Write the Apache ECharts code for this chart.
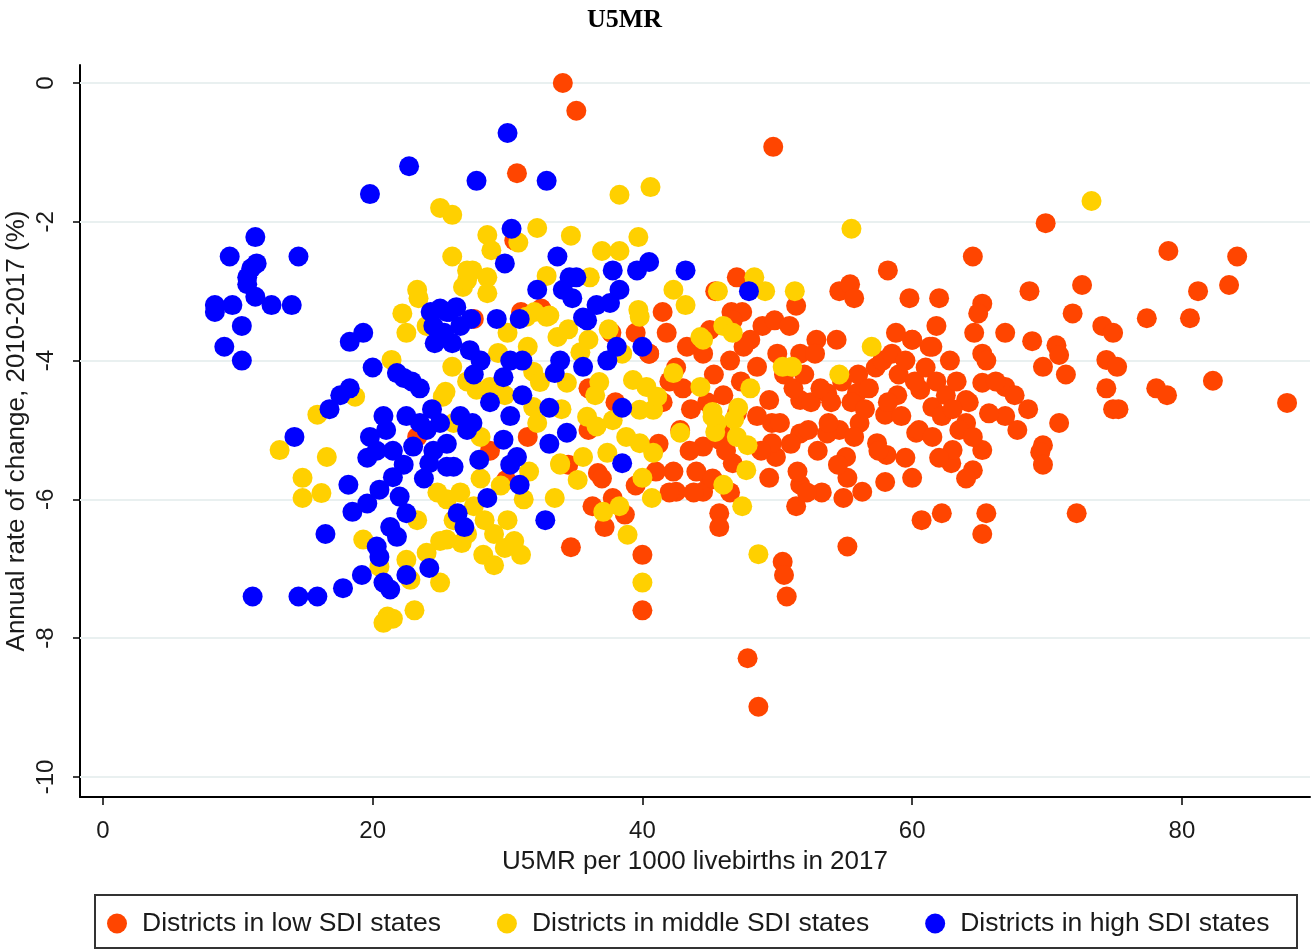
<!DOCTYPE html>
<html>
<head>
<meta charset="utf-8">
<script src="https://cdn.jsdelivr.net/npm/echarts@6/dist/echarts.min.js"></script>
<style>
  html, body { margin: 0; padding: 0; background: #fff; }
  #chart { width: 1312px; height: 950px; }
</style>
</head>
<body>
<div id="chart"></div>
<script>
// U5MR in 2017 (per 1000 livebirths) vs annual rate of change 2010-2017 (%), by district
const xTicks = [0, 20, 40, 60, 80];
const yTicks = [0, -2, -4, -6, -8, -10];

const seriesNames = [
  'Districts in low SDI states',
  'Districts in middle SDI states',
  'Districts in high SDI states'
];

// [U5MR 2017, annual rate of change %]
const lowSDI = [
  [34.1,0.0],[35.1,-0.4],[49.7,-0.92],[30.7,-1.3],
  [69.9,-2.02],[79.0,-2.42],[84.1,-2.5],[68.7,-3.0],[72.6,-2.91],[81.2,-3.0],[83.5,-2.91],[71.9,-3.32],
  [77.4,-3.39],[80.6,-3.39],[66.9,-3.6],[68.9,-3.72],[74.1,-3.5],[74.9,-3.6],[70.7,-3.78],[70.9,-3.92],
  [69.7,-4.09],[71.4,-4.2],[74.4,-3.99],[75.2,-4.09],[66.9,-4.38],[67.6,-4.5],[74.4,-4.4],[78.1,-4.4],
  [78.9,-4.5],[82.3,-4.29],[87.8,-4.61],[68.6,-4.7],[66.9,-4.8],[74.9,-4.7],[75.3,-4.7],[70.9,-4.9],
  [67.8,-5.0],[69.7,-5.22],[69.5,-5.32],[69.7,-5.5],[72.2,-6.2],
  [64.5,-2.5],[58.2,-2.7],[47.0,-2.8],[45.4,-3.0],[54.6,-3.0],[55.4,-2.9],[55.7,-3.1],[59.8,-3.1],
  [62.0,-3.1],[65.2,-3.18],[64.9,-3.32],[51.4,-3.21],[46.6,-3.3],[47.4,-3.3],[46.7,-3.42],[61.8,-3.5],
  [64.6,-3.6],[48.9,-3.5],[49.8,-3.42],[50.9,-3.5],[52.9,-3.7],[54.4,-3.7],[48.0,-3.7],[45.0,-3.56],
  [60.0,-3.7],[61.5,-3.8],[65.2,-3.9],[51.7,-3.9],[48.5,-4.09],
  [45.7,-6.2],[45.7,-6.4],[51.4,-6.1],[54.9,-5.98],[60.7,-6.3],[62.2,-6.2],[65.5,-6.2],[65.2,-6.5],
  [55.2,-6.68],[50.4,-6.9],[50.5,-7.09],[50.7,-7.4],[47.8,-8.29],[48.6,-8.99],
  [49.4,-5.69],[51.7,-5.79],[53.3,-5.9],[55.2,-5.69],[56.3,-5.89],[58.0,-5.75],[60.0,-5.69],[64.5,-5.58],
  [65.2,-5.29],[62.9,-5.48],[63.0,-5.29],[55.1,-5.39],[57.4,-5.19],[58.1,-5.36],[60.3,-5.04],[61.5,-4.67],
  [64.0,-4.9],[65.7,-4.76],[58.9,-4.5],[58.0,-4.78],[56.1,-4.9],[54.6,-5.0],[53.7,-5.05],[51.7,-5.05],
  [49.9,-5.39],[49.6,-5.19],[49.6,-4.9],[49.4,-4.57],[51.7,-4.57],[53.7,-4.47],[55.9,-4.47],[60.6,-4.42],
  [64.0,-4.57],[65.2,-4.32],
  [44.5,-5.24],[45.0,-5.72],[46.7,-5.48],[47.0,-4.76],[45.7,-5.14],
  [36.3,-6.1],[37.8,-5.98],[38.7,-6.22],[37.2,-6.4],[34.7,-6.69],[40.0,-6.8],[40.0,-7.6],[36.7,-5.62],
  [29.9,-5.72],[42.5,-5.89],[44.5,-5.89],
  [42.5,-4.1],[43.0,-4.4],[43.6,-4.7],[42.8,-5.0],[43.5,-5.3],[44.0,-5.6],[42.3,-5.6],[44.5,-3.9],
  [45.3,-4.2],[46.0,-4.5],[46.5,-4.0],[47.3,-4.3],[45.8,-5.0],[46.2,-5.3],[44.8,-4.6],[43.3,-3.8],
  [41.5,-4.6],[41.2,-5.2],[47.5,-3.8],[48.5,-4.8],[48.8,-5.3],[43.8,-5.9],[46.5,-5.9],[45.2,-5.7],
  [42.0,-5.9],[40.5,-3.9],[41.8,-3.6],
  [50.5,-4.2],[51.2,-4.4],[52.0,-4.2],[52.5,-4.6],[53.2,-4.4],[54.0,-4.6],[54.8,-4.3],[55.5,-4.6],
  [56.0,-4.2],[50.2,-4.9],[51.0,-5.2],[52.3,-5.0],[53.0,-5.3],[53.8,-4.9],[54.5,-5.5],[55.7,-5.1],
  [50.0,-3.9],[52.8,-3.9],[56.8,-4.4],[57.3,-4.1],[56.5,-4.7],[51.5,-5.6],[52.2,-5.9],
  [57.8,-4.0],[58.5,-3.9],[59.0,-4.2],[59.5,-4.0],[60.2,-4.3],[61.0,-4.1],[61.8,-4.3],[62.5,-4.5],
  [63.3,-4.3],[64.2,-4.6],[58.2,-4.6],[59.2,-4.8],[60.5,-5.0],[61.5,-5.1],[62.2,-4.8],[63.5,-5.0],
  [64.5,-5.1],[57.5,-5.3],[59.5,-5.4],[62.0,-5.4],[64.0,-5.7],[60.0,-3.7],[58.8,-3.6],[61.3,-3.8],
  [62.8,-4.0],[63.0,-4.7],[65.5,-4.0],[66.2,-4.3],
  [33.0,-3.35],[31.0,-3.3],[37.7,-3.6],[39.5,-3.6],[36.0,-4.4],[38.0,-4.6],[34.5,-5.5],[31.5,-5.1],
  [28.7,-5.3],[37.0,-5.7],[30.5,-2.27],[32.5,-3.25],[27.5,-3.4],[23.3,-5.1],[40.5,-3.9],[41.5,-3.3],
  [42.0,-4.3],[41.0,-5.6],[39.5,-5.8],[36.0,-5.0]
];

const middleSDI = [
  [73.3,-1.7],[38.3,-1.61],[40.6,-1.5],[55.5,-2.1],[25.0,-1.8],[25.9,-1.9],[32.2,-2.09],[34.7,-2.2],
  [28.5,-2.19],[28.8,-2.41],[30.8,-2.3],[25.9,-2.5],[37.0,-2.42],[38.3,-2.42],[39.7,-2.22],[27.4,-2.7],
  [28.5,-2.8],[32.9,-2.78],[36.1,-2.8],[42.3,-2.98],[43.2,-3.2],[26.7,-2.94],[28.5,-3.03],[39.7,-3.27],
  [33.1,-3.35],[31.4,-3.37],[32.0,-3.3],
  [49.1,-3.0],[51.3,-3.0],[48.3,-2.8],[45.6,-3.0],[57.0,-3.8],[46.0,-3.5],[46.7,-3.6],[44.5,-3.7],
  [50.4,-4.09],[51.1,-4.09],[54.6,-4.2],[48.0,-4.4],
  [47.1,-4.68],[45.2,-4.74],[45.5,-4.9],[45.4,-5.03],[47.0,-5.1],[47.8,-5.22],[47.7,-5.58],[46.0,-5.79],
  [47.4,-6.1],[48.6,-6.79],[46.8,-4.85],
  [40.0,-7.2],[40.0,-5.69],[40.7,-5.98],[38.9,-6.51],[38.3,-6.1],[37.1,-6.18],[33.5,-5.98],[35.2,-5.72],
  [33.9,-5.5],
  [13.1,-5.29],[15.9,-4.78],[16.6,-5.39],[14.8,-5.69],[14.8,-5.98],[16.2,-5.91],[25.0,-7.2],[23.1,-7.6],
  [21.1,-7.69],[21.5,-7.72],[20.8,-7.78],[22.5,-6.87],[24.0,-6.77],[22.8,-7.16],[19.3,-6.58],[25.5,-6.58],
  [26.6,-6.63],[23.3,-6.3],[20.5,-6.97],
  [23.3,-2.98],[23.4,-3.1],[22.2,-3.32],[22.5,-3.6],[24.0,-3.5],[25.9,-4.09],[21.4,-3.99],[25.2,-4.52],
  [18.7,-4.52],[27.0,-2.84],[27.0,-2.7],
  [25.4,-4.45],[29.3,-3.89],[31.9,-4.16],[32.4,-4.31],[31.9,-4.67],[32.2,-4.9],[34.4,-4.32],[35.4,-3.88],
  [36.8,-4.31],[35.9,-4.81],[36.6,-4.95],[37.8,-4.86],[39.3,-4.28],[40.3,-4.38],[39.8,-4.71],[40.8,-4.71],
  [41.1,-4.52],[38.8,-5.1],[39.8,-5.19],[40.8,-5.33],[37.4,-5.33],[35.6,-5.39],[33.9,-5.48],[27.7,-4.42],
  [28.7,-4.38],[33.7,-3.66],[32.9,-3.37],[39.8,-3.37],[44.3,-3.66],[42.3,-4.18],[44.3,-4.38],[42.8,-5.04],
  [45.2,-4.81],
  [25.5,-6.0],[26.5,-5.9],[27.5,-6.1],[28.3,-6.3],[29.0,-6.5],[29.8,-6.7],[30.5,-6.6],[31.0,-6.8],
  [28.2,-6.8],[29.0,-6.95],[27.0,-6.5],[26.0,-6.3],[25.0,-6.6],[30.0,-6.3],[31.2,-6.0],[24.8,-5.9],
  [29.5,-5.8],[31.6,-5.6],[28.0,-5.7],
  [30.0,-3.6],[31.5,-3.8],[34.5,-3.55],[36.0,-3.7],[37.5,-3.55],[38.5,-3.9],[36.5,-4.5],[34.0,-4.7],
  [29.8,-4.5],[27.0,-4.3],[26.0,-4.9],[28.0,-5.1]
];

const highSDI = [
  [8.3,-3.2],[8.3,-3.3],[9.0,-3.8],[9.4,-2.5],[9.6,-3.2],[10.3,-3.5],[10.3,-4.0],[10.7,-2.8],
  [10.7,-2.9],[11.0,-2.67],[11.3,-2.22],[11.4,-2.6],[11.3,-3.08],[12.5,-3.2],[14.0,-3.2],[14.5,-2.5],
  [11.1,-7.4],[14.5,-7.4],[15.9,-7.4],[17.8,-7.28],[19.2,-7.09],[20.8,-7.2],[21.3,-7.3],[22.5,-7.09],
  [24.2,-6.99],
  [14.2,-5.1],[16.5,-6.5],[16.8,-4.7],[17.6,-4.5],[18.3,-4.4],[18.3,-3.73],[19.3,-3.6],[20.0,-4.1],
  [19.8,-1.6],[22.7,-1.2],
  [18.2,-5.79],[18.5,-6.18],[19.6,-6.06],[19.6,-5.4],[19.8,-5.1],[20.8,-4.8],[20.3,-6.68],[20.5,-6.83],
  [20.5,-5.86],[21.3,-6.4],[21.8,-6.54],[21.5,-5.3],[21.5,-5.68],[22.0,-5.96],[22.5,-6.2],[23.0,-5.24],
  [23.5,-4.9],[24.2,-5.48],[26.0,-5.53],[26.3,-6.2],
  [21.8,-4.18],[22.9,-4.3],[23.5,-4.4],[24.4,-4.7],[22.5,-4.8],[24.0,-5.0],[25.0,-4.9],[26.5,-4.8],
  [27.0,-5.0],[25.5,-5.2],[24.5,-5.3],[22.3,-5.5],[23.8,-5.7],[21.0,-5.0],[20.3,-5.3],[22.3,-4.25],
  [24.3,-3.3],[25.0,-3.25],[25.7,-3.3],[26.2,-3.23],[24.5,-3.5],[25.3,-3.6],[26.5,-3.5],[27.3,-3.4],
  [24.6,-3.75],[25.9,-3.75],[27.2,-3.85],[28.0,-4.0],[27.5,-4.2],[25.5,-3.3],
  [29.2,-3.4],[30.9,-3.4],[35.9,-3.42],[35.6,-3.38],[36.6,-3.2],[37.6,-3.17],[38.3,-2.98],[34.8,-3.1],
  [34.1,-2.98],[32.2,-2.98],[34.6,-2.8],[35.1,-2.8],[37.8,-2.7],[39.6,-2.7],[40.5,-2.58],[43.2,-2.7],
  [33.7,-2.5],[29.8,-2.6],[30.3,-2.1],[30.0,-0.72],[27.7,-1.41],[32.9,-1.41],
  [30.2,-4.0],[31.1,-4.0],[29.7,-4.24],[33.9,-4.0],[33.5,-4.18],[35.6,-4.09],[37.4,-4.0],[38.1,-3.8],
  [40.0,-3.8],[31.1,-4.5],[33.1,-4.68],[38.5,-4.68],[28.7,-4.6],[30.2,-4.8],[27.4,-4.9],[34.4,-5.04],
  [33.1,-5.2],[29.7,-5.14],[30.7,-5.39],[27.9,-5.43],[38.5,-5.48],[25.5,-5.53],[30.2,-5.5],[30.9,-5.79],
  [28.5,-5.98],[26.8,-6.4],[32.8,-6.3],[47.9,-3.0]
];

const colors = ['#FF4500', '#FFD000', '#0000FF'];
const font = '"Liberation Sans", Arial, sans-serif';

const chart = echarts.init(document.getElementById('chart'), null, { renderer: 'canvas' });

function scatter(name, data, color, extra) {
  return Object.assign({
    name: name,
    type: 'scatter',
    data: data,
    symbol: 'circle',
    symbolSize: 20,
    itemStyle: { color: color, opacity: 1 },
    emphasis: { disabled: true },
    animation: false
  }, extra || {});
}

chart.setOption({
  animation: false,
  backgroundColor: '#fff',
  title: {
    text: 'U5MR',
    left: 582,
    top: 2,
    textStyle: { fontFamily: '"Liberation Serif", "Times New Roman", serif', fontWeight: 'bold', fontSize: 26, color: '#000' }
  },
  grid: { left: 80, right: 2, top: 65, bottom: 153, containLabel: false, outerBoundsMode: 'none' },
  xAxis: {
    type: 'value',
    min: -1.7,
    max: 89.5,
    name: 'U5MR per 1000 livebirths in 2017',
    nameLocation: 'middle',
    nameGap: 52,
    nameMoveOverlap: false,
    nameTextStyle: { fontFamily: font, fontSize: 26, color: '#1a1a1a' },
    axisLine: { show: true, onZero: false, lineStyle: { color: '#000', width: 2 } },
    axisTick: { show: true, length: 8, customValues: xTicks, lineStyle: { color: '#000', width: 1.5 } },
    axisLabel: { customValues: xTicks, margin: 22, fontFamily: font, fontSize: 24, color: '#1a1a1a' },
    splitLine: { show: false }
  },
  yAxis: {
    type: 'value',
    min: -10.29,
    max: 0.26,
    name: 'Annual rate of change, 2010-2017 (%)',
    nameLocation: 'middle',
    nameGap: 50,
    nameRotate: 90,
    nameMoveOverlap: false,
    nameTextStyle: { fontFamily: font, fontSize: 26, color: '#1a1a1a' },
    axisLine: { show: true, onZero: false, lineStyle: { color: '#000', width: 2 } },
    axisTick: { show: true, length: 7, customValues: yTicks, lineStyle: { color: '#000', width: 1.5 } },
    axisLabel: { customValues: yTicks, rotate: 90, margin: 22, fontFamily: font, fontSize: 24, color: '#1a1a1a' },
    splitLine: { show: false }
  },
  legend: {
    data: seriesNames,
    left: 107,
    top: 910,
    padding: 0,
    itemGap: 56,
    itemWidth: 40,
    itemHeight: 20,
    icon: 'circle',
    textStyle: { fontFamily: font, fontSize: 26.5, color: '#1a1a1a' },
    selectedMode: false
  },
  graphic: [{
    type: 'rect',
    shape: { x: 95, y: 895, width: 1202, height: 53 },
    style: { fill: 'none', stroke: '#333', lineWidth: 2 },
    silent: true
  }],
  series: [
    scatter(seriesNames[0], lowSDI, colors[0], {
      markLine: {
        silent: true,
        z: 1,
        symbol: 'none',
        label: { show: false },
        lineStyle: { color: '#e9f0f0', width: 2, type: 'solid' },
        data: yTicks.map(function (v) { return { yAxis: v }; })
      }
    }),
    scatter(seriesNames[1], middleSDI, colors[1]),
    scatter(seriesNames[2], highSDI, colors[2])
  ]
});
</script>
</body>
</html>
